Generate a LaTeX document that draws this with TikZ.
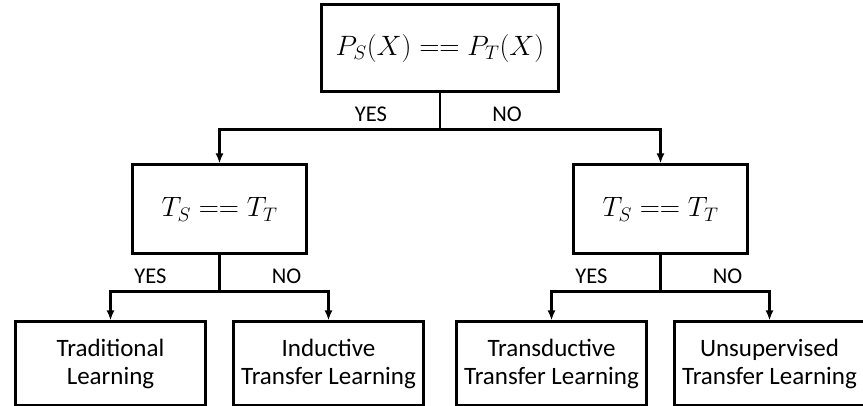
\RequirePackage{fix-cm}
\documentclass[tikz,border=0pt]{standalone}
\usepackage{amsmath}
\usepackage{fontspec}
\setmainfont{Carlito}
\usetikzlibrary{arrows.meta}

\begin{document}
\begin{tikzpicture}[x=1pt,y=1pt,
  box/.style={rectangle,draw,line width=3pt,align=center},
  test/.style={box,minimum width=174pt,minimum height=89pt,font=\fontsize{28}{34}\selectfont},
  leaf/.style={box,minimum width=190pt,minimum height=83pt,font=\fontsize{25}{28}\selectfont},
  yeslbl/.style={pos=0,xshift=-69pt,yshift=15pt,font=\fontsize{22.5}{26}\selectfont},
  nolbl/.style={pos=0,xshift=67pt,yshift=15pt,font=\fontsize{22.5}{26}\selectfont},
  edge from parent/.style={draw,line width=2.2pt,-{Latex[length=10pt,width=8pt]}},
  edge from parent path={(\tikzparentnode.south) -- ++(0,-36) -| (\tikzchildnode.north)},
  level 1/.style={level distance=161pt,sibling distance=441pt},
  level 2/.style={level distance=154pt,sibling distance=218pt}]
\useasboundingbox (0,0) rectangle (863,-406);
\node [box,minimum width=237pt,minimum height=87pt,font=\fontsize{28}{34}\selectfont] (px) at (440,-48.5) {$P_S(X) == P_T(X)$}
  child {node [test] (tl) {$T_S == T_T$}
    child {node [leaf] (trad) {Traditional\\Learning} edge from parent node[yeslbl] {YES}}
    child {node [leaf] (ind) {Inductive\\Transfer Learning} edge from parent node[nolbl] {NO}}
    edge from parent node[yeslbl] {YES}
  }
  child {node [test] (tr) {$T_S == T_T$}
    child {node [leaf] (trans) {Transductive\\Transfer Learning} edge from parent node[yeslbl] {YES}}
    child {node [leaf] (unsup) {Unsupervised\\Transfer Learning} edge from parent node[nolbl] {NO}}
    edge from parent node[nolbl] {NO}
  };
\end{tikzpicture}
\end{document}
